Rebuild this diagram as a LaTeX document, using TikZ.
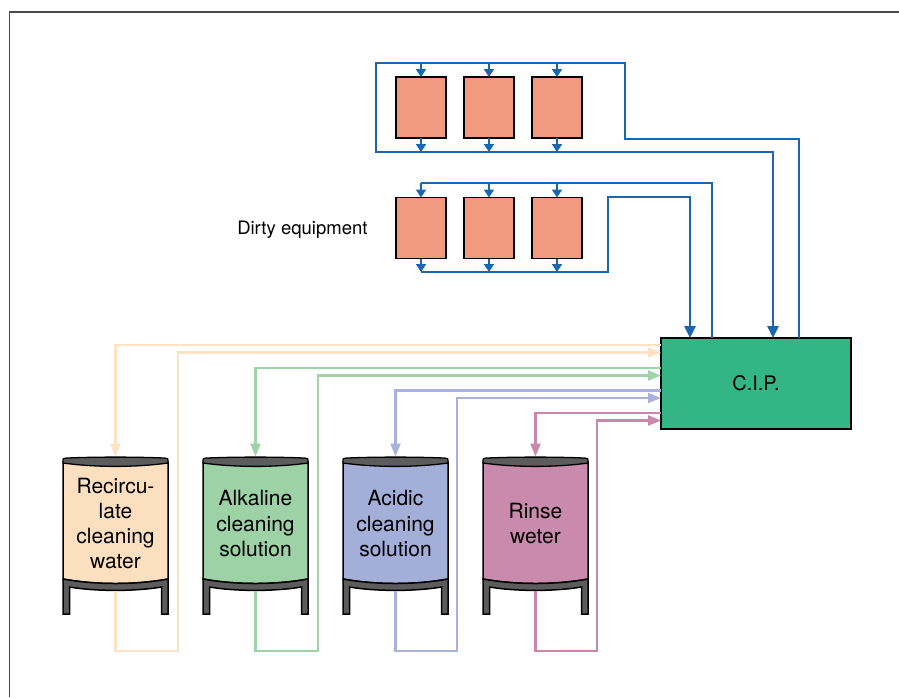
\documentclass[tikz,border=0pt]{standalone}
\usepackage{fontspec}
\setmainfont{TeX Gyre Heros}
\usetikzlibrary{arrows.meta}

\definecolor{framegray}{HTML}{4A4A4A}
\definecolor{pipeblue}{HTML}{1A66B0}
\definecolor{salmon}{HTML}{F19A80}
\definecolor{cipgreen}{HTML}{33B585}
\definecolor{peachfill}{HTML}{FBDFBF}
\definecolor{peachline}{HTML}{FDE3C3}
\definecolor{greenfill}{HTML}{9DD1A6}
\definecolor{greenline}{HTML}{9FD4A9}
\definecolor{bluefill}{HTML}{A3AED9}
\definecolor{blueline}{HTML}{A9B2DD}
\definecolor{pinkfill}{HTML}{C98AAB}
\definecolor{pinkline}{HTML}{C987AA}
\definecolor{standgray}{HTML}{5C5C5C}

\tikzset{
  equip/.style={draw=black, line width=1.4pt, fill=salmon, minimum width=50pt,
    minimum height=61pt, inner sep=0pt, outer sep=0pt},
  cipbox/.style={draw=black, line width=2pt, fill=cipgreen, minimum width=190pt,
    minimum height=91pt, inner sep=0pt, outer sep=0pt, font=\fontsize{20}{24}\selectfont},
  tankbody/.style={minimum width=105pt, minimum height=134pt, inner sep=0pt, outer sep=0pt,
    align=center, font=\fontsize{21}{25.3}\selectfont},
  pipe/.style={draw=pipeblue, line width=2.6pt},
  smalltip/.style={-{Triangle[length=8pt,width=10pt]}},
  bigtip/.style={-{Triangle[length=12pt,width=11pt]}},
  feed/.style={line width=2.4pt, -{Triangle[length=13pt,width=10pt]}},
}

% one storage tank: name, centre x, fill colour, label
\newcommand{\cleantank}[4]{%
  \begin{scope}[shift={(#2,0)}]
    % vessel
    \filldraw[fill=#3, draw=black, line width=1.5pt]
      (-52.5,462) -- (52.5,462) -- (52.5,579)
      .. controls (20,585) and (-20,585) .. (-52.5,579) -- cycle;
    % lid band
    \filldraw[fill=standgray, draw=black, line width=1.3pt]
      (-52.5,463) -- (-52.5,461.5) .. controls (-52.5,458.3) .. (-48,458)
      .. controls (-20,456.8) and (20,456.8) .. (48,458)
      .. controls (52.5,458.3) .. (52.5,461.5) -- (52.5,463)
      .. controls (20,467.5) and (-20,467.5) .. cycle;
    % stand with legs
    \filldraw[fill=standgray, draw=black, line width=1.5pt]
      (-52.5,579) .. controls (-20,585) and (20,585) .. (52.5,579)
      -- (52.5,614) -- (46,614) -- (46,587)
      .. controls (20,591.5) and (-20,591.5) .. (-46,587)
      -- (-46,614) -- (-52.5,614) -- cycle;
  \end{scope}
  \node[tankbody] (#1) at (#2,523.5) {#4};
}

\begin{document}
\begin{tikzpicture}[x=1pt,y=-1pt]
\useasboundingbox (0,0) rectangle (899,697);

% outer frame (top and left edges)
\draw[framegray, line width=1.7pt] (9.5,697) -- (9.5,12) -- (899,12);

% ---------- tanks ----------
\cleantank{t1}{115.5}{peachfill}{Recircu-\\late\\cleaning\\water}
\cleantank{t2}{255.5}{greenfill}{Alkaline\\cleaning\\solution}
\cleantank{t3}{395.5}{bluefill}{Acidic\\cleaning\\solution}
\cleantank{t4}{535.5}{pinkfill}{Rinse\\weter}

% ---------- C.I.P. unit ----------
\node[cipbox] (cip) at (756,383.5) {C.I.P.};

% ---------- dirty equipment ----------
\node[equip] (a1) at (421,107.5) {};
\node[equip] (a2) at (489,107.5) {};
\node[equip] (a3) at (557,107.5) {};
\node[equip] (b1) at (421,228) {};
\node[equip] (b2) at (489,228) {};
\node[equip] (b3) at (557,228) {};
\node[anchor=east, font=\fontsize{18.5}{22}\selectfont] (lbl) at (371,230) {Dirty equipment};

% header levels of the two equipment loops
\coordinate (hA) at (0,63);
\coordinate (rA) at (0,152);
\coordinate (hB) at (0,183);
\coordinate (rB) at (0,272);

% upper loop
\draw[pipe, bigtip] ([xshift=43pt]cip.north) |- (625,139) |- (376,63)
  -- (376,152) -| ([xshift=17pt]cip.north);
\foreach \e in {a1,a2,a3}{
  \draw[pipe, smalltip] (\e |- hA) -- (\e.north);
  \draw[pipe, smalltip] (\e.south) -- (\e |- rA);
}

% lower loop
\draw[pipe] ([xshift=-44pt]cip.north) |- (b1 |- hB);
\draw[pipe, bigtip] (b1 |- rB) -| (608,197) -| ([xshift=-66pt]cip.north);
\foreach \e in {b1,b2,b3}{
  \draw[pipe, smalltip] (\e |- hB) -- (\e.north);
  \draw[pipe, smalltip] (\e.south) -- (\e |- rB);
}

% ---------- supply and return lines of the tanks ----------
\draw[feed, peachline] (cip.west |- 0,345) -| (t1.north);
\draw[feed, peachline] (t1.south) |- (178,651) |- (cip.west |- 0,352.5);

\draw[feed, greenline] (cip.west |- 0,368) -| (t2.north);
\draw[feed, greenline] (t2.south) |- (318,651) |- (cip.west |- 0,375.5);

\draw[feed, blueline] (cip.west |- 0,390.5) -| (t3.north);
\draw[feed, blueline] (t3.south) |- (457,651) |- (cip.west |- 0,398);

\draw[feed, pinkline] (cip.west |- 0,413) -| (t4.north);
\draw[feed, pinkline] (t4.south) |- (597,651) |- (cip.west |- 0,420.5);

\end{tikzpicture}
\end{document}
